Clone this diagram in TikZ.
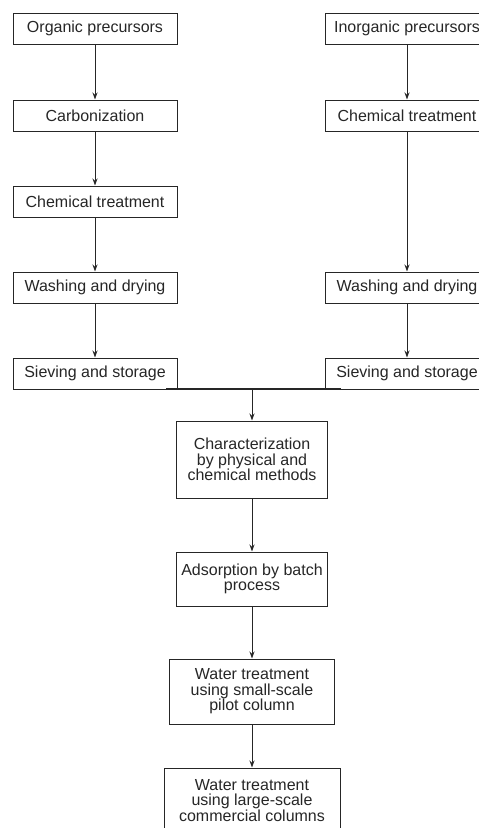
\documentclass[tikz,border=0pt]{standalone}
\usepackage{fontspec}
\setmainfont{Liberation Sans}
\usepackage{tikz}
\usetikzlibrary{arrows.meta}

\begin{document}
\begin{tikzpicture}[x=1pt,y=-1pt,>={Stealth[length=7pt,width=5pt]},
  every node/.style={font=\fontsize{16}{15.5}\selectfont, text=black!85},
  box/.style={draw=black!85, line width=1pt, minimum width=164pt, minimum height=31pt, inner sep=0pt},
  mbox/.style={draw=black!85, line width=1pt, align=center, inner sep=0pt},
  link/.style={->, draw=black!85, line width=1pt}]
\useasboundingbox (0,0) rectangle (479,828);

% left branch
\node[box] (org)   at (95,28.5)  {Organic precursors};
\node[box] (carb)  at (95,115.5) {Carbonization};
\node[box] (chemL) at (95,201.5) {Chemical treatment};
\node[box] (washL) at (95,287.5) {Washing and drying};
\node[box] (sievL) at (95,373.5) {Sieving and storage};

% right branch
\node[box] (inorg) at (407,28.5)  {Inorganic precursors};
\node[box] (chemR) at (407,115.5) {Chemical treatment};
\node[box] (washR) at (407,287.5) {Washing and drying};
\node[box] (sievR) at (407,373.5) {Sieving and storage};

% common part
\node[mbox, minimum width=151pt, minimum height=77pt] (char) at (252,459.5)
  {Characterization\\by physical and\\chemical methods};
\node[mbox, minimum width=151pt, minimum height=54pt] (batch) at (252,579)
  {Adsorption by batch\\process};
\node[mbox, minimum width=165pt, minimum height=65pt] (pilot) at (252,691.5)
  {Water treatment\\using small-scale\\pilot column};
\node[mbox, minimum width=176pt, minimum height=65pt] (comm) at (252,800.5)
  {Water treatment\\using large-scale\\commercial columns};

\foreach \a/\b in {org/carb,carb/chemL,chemL/washL,washL/sievL,
                   inorg/chemR,chemR/washR,washR/sievR,
                   char/batch,batch/pilot,pilot/comm} {
\draw[link] (\a.south) -- (\b.north); }

\coordinate (jl) at (166,389);
\coordinate (jr) at (341,389);
\coordinate (join) at (252,389);
\draw[black!85, line width=1.3pt] (jl) -- (jr);
\draw[link] (join) -- (char.north);
\end{tikzpicture}
\end{document}
